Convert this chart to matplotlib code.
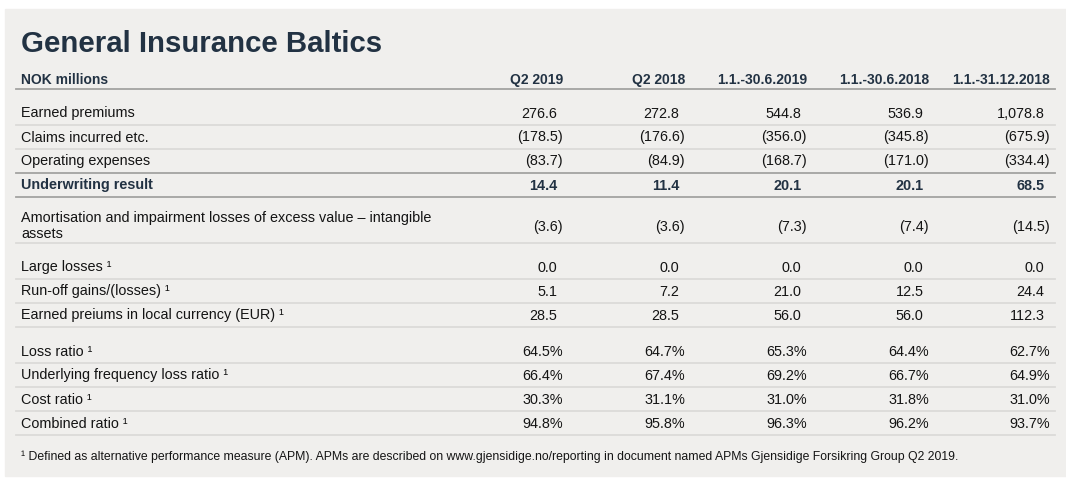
import matplotlib.pyplot as plt

plt.rcParams['font.family'] = ['Liberation Sans', 'DejaVu Sans']

# table content
title = 'General Insurance Baltics'
unit_label = 'NOK millions'
col_headers = ['Q2 2019', 'Q2 2018', '1.1.-30.6.2019', '1.1.-30.6.2018', '1.1.-31.12.2018']

group1_labels = ['Earned premiums', 'Claims incurred etc.', 'Operating expenses', 'Underwriting result']
group1_values = [
    ['276.6', '272.8', '544.8', '536.9', '1,078.8'],
    ['(178.5)', '(176.6)', '(356.0)', '(345.8)', '(675.9)'],
    ['(83.7)', '(84.9)', '(168.7)', '(171.0)', '(334.4)'],
    ['14.4', '11.4', '20.1', '20.1', '68.5'],
]
group2_labels = ['Amortisation and impairment losses of excess value \u2013 intangible\nassets']
group2_values = [['(3.6)', '(3.6)', '(7.3)', '(7.4)', '(14.5)']]
group3_labels = ['Large losses \u00b9', 'Run-off gains/(losses) \u00b9', 'Earned preiums in local currency (EUR) \u00b9']
group3_values = [
    ['0.0', '0.0', '0.0', '0.0', '0.0'],
    ['5.1', '7.2', '21.0', '12.5', '24.4'],
    ['28.5', '28.5', '56.0', '56.0', '112.3'],
]
group4_labels = ['Loss ratio \u00b9', 'Underlying frequency loss ratio \u00b9', 'Cost ratio \u00b9', 'Combined ratio \u00b9']
group4_values = [
    ['64.5%', '64.7%', '65.3%', '64.4%', '62.7%'],
    ['66.4%', '67.4%', '69.2%', '66.7%', '64.9%'],
    ['30.3%', '31.1%', '31.0%', '31.8%', '31.0%'],
    ['94.8%', '95.8%', '96.3%', '96.2%', '93.7%'],
]
footnote = ('\u00b9 Defined as alternative performance measure (APM). APMs are described on '
            'www.gjensidige.no/reporting in document named APMs Gjensidige Forsikring Group Q2 2019.')

# layout (pixels)
W, H = 1066, 493
bg = '#f0efed'
navy = '#223243'
txt = '#141414'
dark_line = '#a3a3a1'
light_line = '#dcdbd9'
x_left = 21
line_x0, line_x1 = 16, 1055
col_right = [563, 685, 807, 929, 1050]
paren_w = 5.5
fs = 10.4
row_h = 24
gap = 12

fig = plt.figure(figsize=(W / 100, H / 100), dpi=100)
fig.patch.set_facecolor('white')
ax = fig.add_axes([0, 0, 1, 1])
ax.set_xlim(0, W)
ax.set_ylim(H, 0)
ax.axis('off')
ax.add_patch(plt.Rectangle((5, 9), W - 5, 467, color=bg, zorder=0))

ax.text(x_left, 52, title, fontsize=21.2, fontweight='bold', color=navy, va='baseline')

# header row
ax.text(x_left, 84, unit_label, fontsize=10, fontweight='bold', color=navy, va='baseline')
for xr, h in zip(col_right, col_headers):
    ax.text(xr, 84, h, fontsize=10, fontweight='bold', color=navy, va='baseline', ha='right')
ax.plot([line_x0, line_x1], [88.5, 88.5], color=dark_line, lw=1.3)


def put_values(vals, yc, bold=False):
    for xr, v in zip(col_right, vals):
        x = xr if (v.endswith(')') or v.endswith('%')) else xr - paren_w
        ax.text(x, yc, v, fontsize=fs, color=navy if bold else txt,
                fontweight='bold' if bold else 'normal', ha='right', va='center')


y = 88.5 + gap
# group 1
for i, (lab, vals) in enumerate(zip(group1_labels, group1_values)):
    bold = lab == 'Underwriting result'
    yc = y + row_h / 2 + 1
    ax.text(x_left, yc, lab, fontsize=fs, color=navy if bold else txt,
            fontweight='bold' if bold else 'normal', va='center')
    put_values(vals, yc, bold)
    y += row_h
    dark = i >= 2
    ax.plot([line_x0, line_x1], [y, y], color=dark_line if dark else light_line, lw=1.3)

# group 2 (two-line label)
y += gap
for lab, vals in zip(group2_labels, group2_values):
    yc = y + 17.5
    ax.text(x_left, yc, lab, fontsize=fs, color=txt, va='center', linespacing=1.1)
    put_values(vals, yc + 1.5)
    y += 34
    ax.plot([line_x0, line_x1], [y, y], color=light_line, lw=1.3)

for labels, values in [(group3_labels, group3_values), (group4_labels, group4_values)]:
    y += gap
    for lab, vals in zip(labels, values):
        yc = y + row_h / 2 + 1
        ax.text(x_left, yc, lab, fontsize=fs, color=txt, va='center')
        put_values(vals, yc)
        y += row_h
        ax.plot([line_x0, line_x1], [y, y], color=light_line, lw=1.3)

ax.text(x_left, y + 22, footnote, fontsize=8.85, color=txt, va='center')

fig.savefig('out.png', dpi=100, facecolor='white')
